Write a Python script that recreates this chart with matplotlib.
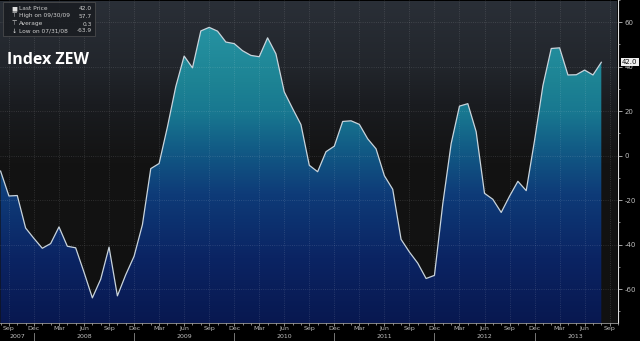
import numpy as np
import matplotlib
matplotlib.use("Agg")
import matplotlib.pyplot as plt
import matplotlib.transforms as mtransforms
from matplotlib.colors import LinearSegmentedColormap
from matplotlib.patches import Rectangle

# ---- data (monthly, Aug 2007 .. Aug 2013) ----
start_year = 2007
start_month = 8
zew = [-6.9, -18.1, -17.9, -32.5, -37.2,
       -41.6, -39.5, -32.0, -40.7, -41.4, -52.4, -63.9, -55.5, -41.1, -63.0, -53.5, -45.2,
       -31.0, -5.8, -3.5, 13.0, 31.1, 44.8, 39.5, 56.1, 57.7, 56.0, 51.1, 50.4,
       47.2, 45.1, 44.5, 53.0, 45.8, 28.7, 21.2, 14.0, -4.3, -7.2, 1.8, 4.3,
       15.4, 15.7, 14.1, 7.6, 3.1, -9.0, -15.1, -37.6, -43.3, -48.3, -55.2, -53.8,
       -21.6, 5.4, 22.3, 23.4, 10.8, -16.9, -19.6, -25.5, -18.2, -11.5, -15.7, 6.9,
       31.5, 48.2, 48.5, 36.3, 36.4, 38.5, 36.3, 42.0]
month_names = ["Jan", "Feb", "Mar", "Apr", "May", "Jun",
               "Jul", "Aug", "Sep", "Oct", "Nov", "Dec"]
legend_labels = ["Last Price", "High on 09/30/09", "Average", "Low on 07/31/08"]
legend_values = ["42.0", "57.7", "0.3", "-63.9"]
title = "Index ZEW"
y_ticks = [-60, -40, -20, 0, 20, 40, 60]

x = np.arange(len(zew))
W, H = 640, 341
YMIN, YMAX = -75.2, 69.4
XMIN, XMAX = -0.07, 73.85

fig = plt.figure(figsize=(6.4, 3.41), dpi=100, facecolor="black")
ax = fig.add_axes([0, 18 / H, 618 / W, 323 / H])
ax.set_facecolor("black")
ax.set_xlim(XMIN, XMAX)
ax.set_ylim(YMIN, YMAX)

# background gradient (area above the line)
bg_cmap = LinearSegmentedColormap.from_list(
    "bg", [(0, "#111111"), (0.5, "#131313"), (0.68, "#1a1c20"), (0.8, "#22262c"), (1, "#2a2f37")])
grad = np.linspace(0, 1, 256).reshape(-1, 1)
ax.imshow(grad, cmap=bg_cmap, origin="lower", aspect="auto",
          extent=[XMIN, XMAX, YMIN, YMAX], zorder=0, interpolation="bilinear")

# fill gradient under the line
fill_cmap = LinearSegmentedColormap.from_list(
    "fill", [(0, "#081850"), (0.2, "#0b2463"), (0.4, "#0e3b78"), (0.55, "#125d86"),
             (0.65, "#187790"), (0.75, "#1d8394"), (1, "#2a9aa8")])
poly = ax.fill_between(x, zew, YMIN, facecolor="none", edgecolor="none")
im = ax.imshow(grad, cmap=fill_cmap, origin="lower", aspect="auto",
               extent=[XMIN, XMAX, YMIN, YMAX], zorder=1, interpolation="bilinear")
im.set_clip_path(poly.get_paths()[0], transform=ax.transData)

ax.plot(x, zew, color="#c9d4dc", lw=0.9, zorder=3)

# ticks / grid
q_ticks = [i for i in x.tolist() + [len(zew)] if (start_month - 1 + i) % 3 == 2]
q_labels = [month_names[(start_month - 1 + i) % 12] for i in q_ticks]
ax.set_xticks(q_ticks)
ax.set_xticklabels(q_labels)
ax.set_xticks(list(range(0, len(zew) + 2)), minor=True)
ax.yaxis.tick_right()
ax.set_yticks(y_ticks)
ax.set_yticklabels([str(v) for v in y_ticks])
ax.set_yticks(list(range(-70, 71, 10)), minor=True)
ax.tick_params(axis="y", which="major", colors="#bfbfbf", labelsize=5, length=3, width=0.6, pad=2)
ax.tick_params(axis="x", which="major", colors="#bfbfbf", labelsize=4.5, length=2, width=0.5, pad=0.5)
ax.tick_params(axis="both", which="minor", colors="#bfbfbf", length=1.5, width=0.5)
ax.grid(True, which="major", color="#ffffff", alpha=0.16, lw=0.6, ls=":", zorder=2)
ax.set_axisbelow(False)
for s in ["top", "left"]:
    ax.spines[s].set_visible(False)
ax.spines["right"].set_color("#e0e0e0")
ax.spines["right"].set_linewidth(0.8)
ax.spines["bottom"].set_color("#9a9a9a")
ax.spines["bottom"].set_linewidth(0.6)

# year labels and separators
blend = mtransforms.blended_transform_factory(ax.transData, ax.transAxes)
years = sorted(set(start_year + (start_month - 1 + i) // 12 for i in range(len(zew) + 1)))
for yr in years:
    b0 = (yr - start_year) * 12 + (12 - start_month) - 12  # index of Dec of previous year
    b1 = b0 + 12
    left, right = max(XMIN, b0), min(XMAX, b1)
    ax.text((left + right) / 2, -13.5 / 323, str(yr), transform=blend, color="#bfbfbf",
            fontsize=4.5, ha="center", va="center")
    if b0 > XMIN:
        ax.plot([b0, b0], [-9.5 / 323, -18 / 323], transform=blend, color="#8a8a8a",
                lw=0.6, clip_on=False)

# last price tag
ax.annotate(f"{zew[-1]:.1f}", xy=(1.0, zew[-1]),
            xycoords=mtransforms.blended_transform_factory(ax.transAxes, ax.transData),
            xytext=(3, 0), textcoords="offset points", fontsize=5, color="#111111",
            va="center", ha="left", annotation_clip=False,
            bbox=dict(boxstyle="square,pad=0.15", fc="#f0f0f0", ec="none"))

# legend box
def fx(px):
    return px / W

def fy(py):
    return 1 - py / H

fig.patches.append(Rectangle((fx(3), fy(36)), fx(92), 34 / H, transform=fig.transFigure,
                             facecolor="#1a1d22", edgecolor="#555555", lw=0.5, alpha=0.9))
icons = ["\u25a0", "\u22a4", "\u22a4", "\u2193"]
rows_y = [9, 16, 24, 31]
for lab, val, ic, ry in zip(legend_labels, legend_values, icons, rows_y):
    fig.text(fx(14), fy(ry), ic, color="#e0e0e0", fontsize=4.5, ha="center", va="center")
    fig.text(fx(19), fy(ry), lab, color="#cfcfcf", fontsize=4.2, ha="left", va="center")
    fig.text(fx(92), fy(ry), val, color="#cfcfcf", fontsize=4.2, ha="right", va="center")

fig.text(fx(7), fy(60), title, color="white", fontsize=11.5, fontweight="bold",
         family="Open Sans", ha="left", va="center")

fig.savefig("out.png", dpi=100, facecolor="black")
